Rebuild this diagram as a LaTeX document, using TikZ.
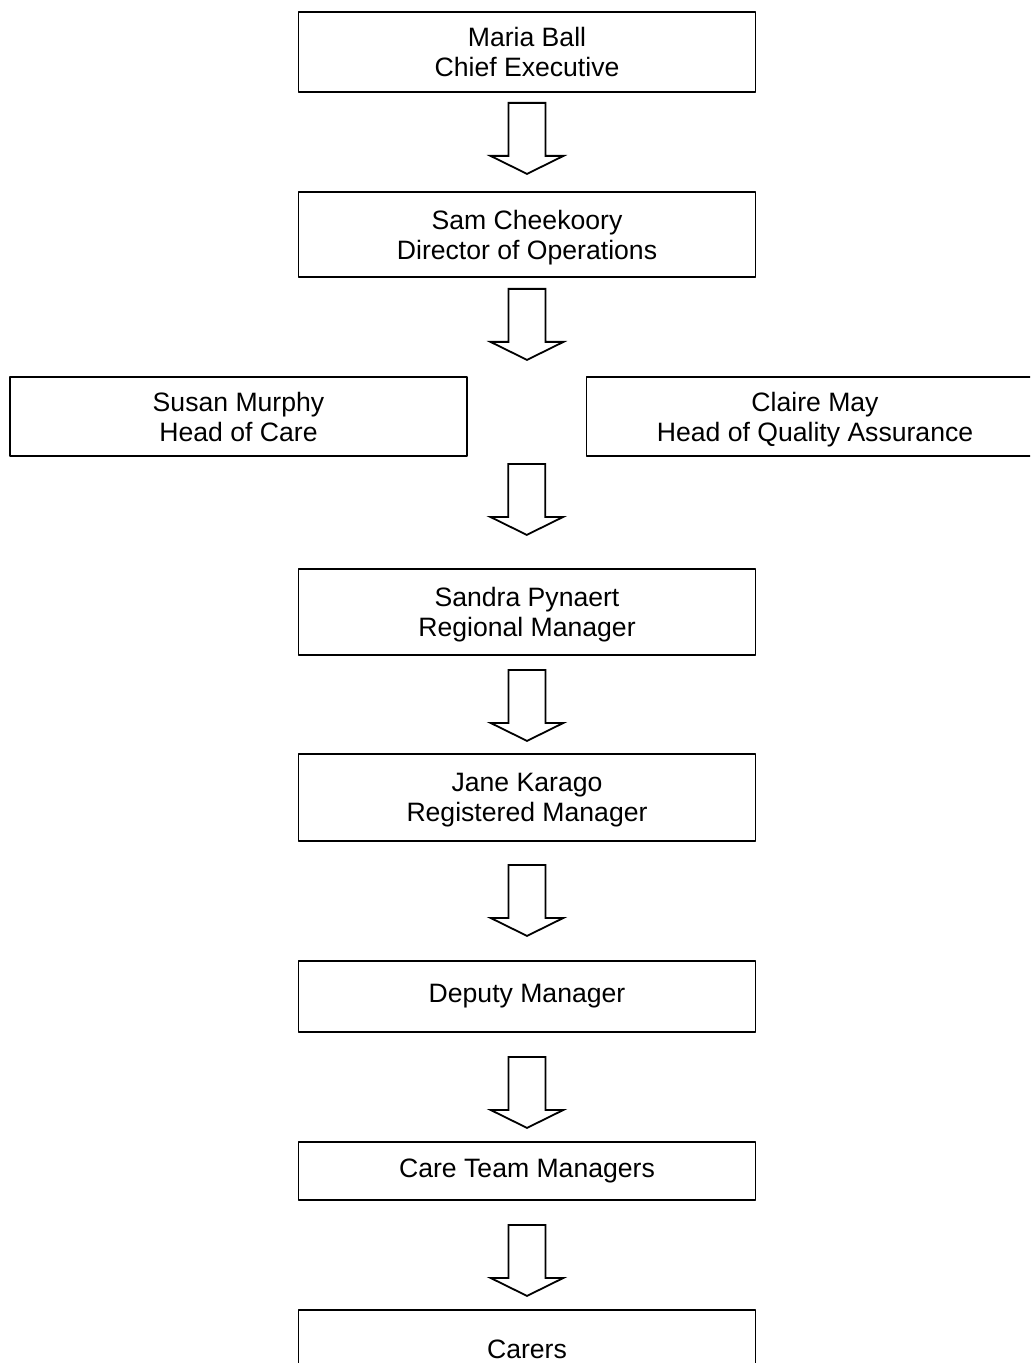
\documentclass[tikz,border=0pt]{standalone}
\usepackage{fontspec}
\setmainfont{Liberation Sans}
\usepackage{tikz}
\usetikzlibrary{calc}
\tikzset{post/.style={draw,rectangle,line width=0.9pt,minimum width=228.5pt,inner sep=0pt,align=center}}
\tikzset{duo/.style={post,text depth=0pt}}
\tikzset{down/.pic={\draw[line width=0.9pt,line join=miter,fill=white] (-18.5,0)--(18.5,0)--(18.5,53)--(36.5,53)--(0,71)--(-36.5,53)--(-18.5,53)--cycle;}}

\begin{document}
\begin{tikzpicture}[x=0.5pt,y=-0.5pt,line join=round]
          \useasboundingbox (0,0) rectangle (1030,1363);
          \clip (0,0) rectangle (1030,1363);
          \begin{scope}[font=\fontsize{13.3}{15}\selectfont]
            \node[duo,minimum height=40pt] (ceo) at (527,52) {Maria Ball\\Chief Executive};
            \node[duo,minimum height=42.5pt] (ops) at (527,234.5) {Sam Cheekoory\\Director of Operations};
            \node[duo,minimum height=39.5pt] (care) at (238.5,416.5) {Susan Murphy\\Head of Care};
            \node[duo,minimum height=39.5pt] (qa) at (815,416.5) {Claire May\\Head of Quality Assurance};
            \node[duo,minimum height=43pt] (region) at (527,612) {Sandra Pynaert\\Regional Manager};
            \node[duo,minimum height=43.5pt] (reg) at (527,797.5) {Jane Karago\\Registered Manager};
            \node[post,minimum height=35.5pt] (dep) at (527,996.5) {Deputy Manager};
            \node[post,minimum height=29pt] (team) at (527,1171) {Care Team Managers};
            \node[post,minimum height=39pt] (carers) at (527,1349) {Carers};
          \end{scope}
          \pic at ($(ceo.south)+(0,10)$) {down};
          \pic at ($(ops.south)+(0,11)$) {down};
          \pic at ($($(care.south)!0.5!(qa.south)$)+(0,7)$) {down};
          \pic at ($(region.south)+(0,14)$) {down};
          \pic at ($(reg.south)+(0,23)$) {down};
          \pic at ($(dep.south)+(0,24)$) {down};
          \pic at ($(team.south)+(0,24)$) {down};
        \end{tikzpicture}
\end{document}
